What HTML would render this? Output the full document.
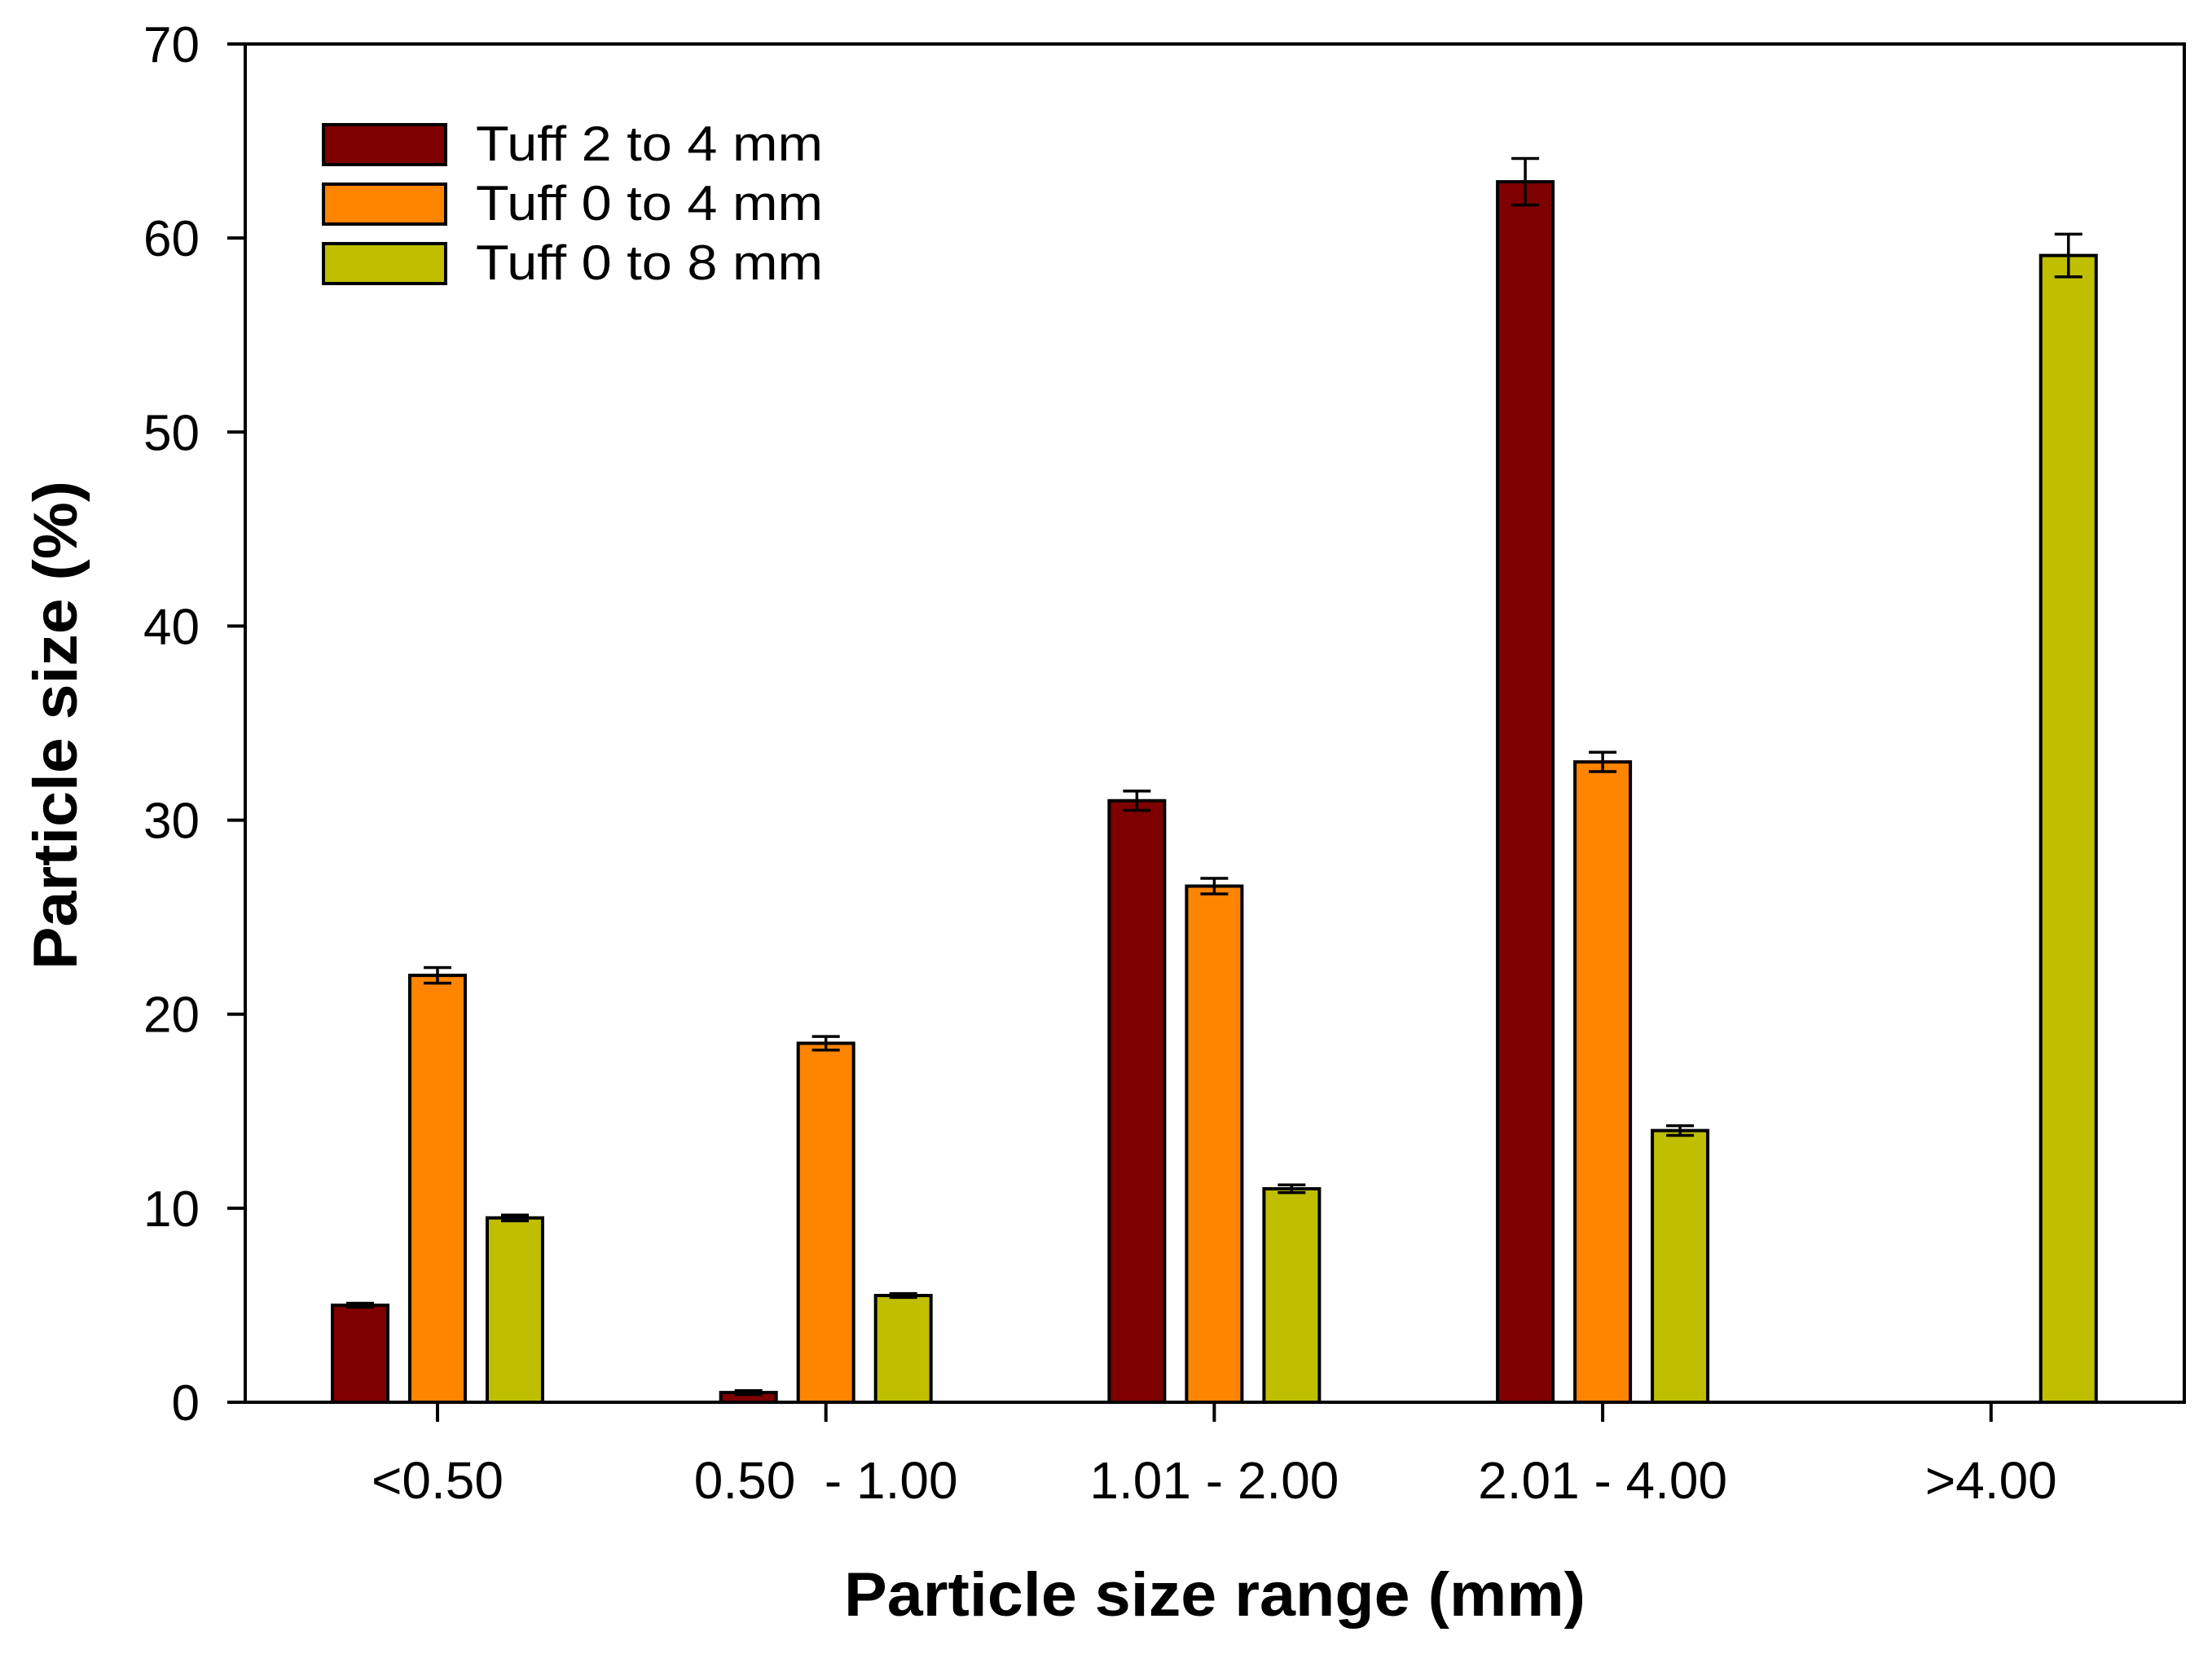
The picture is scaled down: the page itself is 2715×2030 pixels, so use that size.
<!DOCTYPE html>
<html><head><meta charset="utf-8"><style>
html,body{margin:0;padding:0;background:#fff;}
svg{display:block;font-family:"Liberation Sans",Arial,sans-serif;}
</style></head><body>
<svg id="chart" width="2715" height="2030" viewBox="0 0 2715 2030">
<rect width="2715" height="2030" fill="#fff"/>
<g id="bars"></g>
<g id="axes"></g>
<g>
 <rect x="397" y="153" width="150" height="49" fill="#7f0000" stroke="#000" stroke-width="4"/>
 <text x="584" y="197" font-size="60" textLength="426" lengthAdjust="spacingAndGlyphs">Tuff 2 to 4 mm</text>
 <rect x="397" y="226" width="150" height="49" fill="#ff8400" stroke="#000" stroke-width="4"/>
 <text x="584" y="270" font-size="60" textLength="426" lengthAdjust="spacingAndGlyphs">Tuff 0 to 4 mm</text>
 <rect x="397" y="299" width="150" height="49" fill="#bfbf00" stroke="#000" stroke-width="4"/>
 <text x="584" y="343" font-size="60" textLength="426" lengthAdjust="spacingAndGlyphs">Tuff 0 to 8 mm</text>
</g>
<text x="1491" y="1983" font-size="76" font-weight="bold" text-anchor="middle" textLength="910" lengthAdjust="spacingAndGlyphs">Particle size range (mm)</text>
<text transform="translate(94,890) rotate(-90)" font-size="76" font-weight="bold" text-anchor="middle" textLength="600" lengthAdjust="spacingAndGlyphs">Particle size (%)</text>
</svg>
<script>
const categories = ["<0.50", "0.50  - 1.00", "1.01 - 2.00", "2.01 - 4.00", ">4.00"];
const tuff24 = [5, 0.5, 31, 62.9, 0];
const tuff04 = [22, 18.5, 26.6, 33, 0];
const tuff08 = [9.5, 5.5, 11, 14, 59.1];
const err24 = [0.1, 0.1, 0.5, 1.2, 0];
const err04 = [0.4, 0.35, 0.4, 0.5, 0];
const err08 = [0.15, 0.1, 0.2, 0.25, 1.1];
const yTicks = [0, 10, 20, 30, 40, 50, 60, 70];

const NS = "http://www.w3.org/2000/svg";
const L = 301, R = 2681, T = 54, B = 1721;
const yMax = 70;
function y(v){ return B - v / yMax * (B - T); }
function x(i){ return 537 + i * 476.7; }
const barW = 68, off = 95;
function mk(tag, attrs, parent){
  const e = document.createElementNS(NS, tag);
  for (const k in attrs) e.setAttribute(k, attrs[k]);
  parent.appendChild(e);
  return e;
}
const bars = document.getElementById('bars');
const axes = document.getElementById('axes');
const series = [[tuff24, err24, "#7f0000", -off, "tuff-2-4"], [tuff04, err04, "#ff8400", 0, "tuff-0-4"], [tuff08, err08, "#bfbf00", off, "tuff-0-8"]];
series.forEach(s => {
  s[0].forEach((v, i) => {
    if (v <= 0) return;
    const cx = x(i) + s[3];
    const r = mk('rect', {x: cx - barW/2, y: y(v), width: barW, height: B - y(v), fill: s[2], stroke: "#000", "stroke-width": 4}, bars);
    
    
    const e = s[1][i];
    if (e > 0) {
      const g = mk('g', {stroke: "#000", "stroke-width": 3.5}, bars);
      
      
      mk('line', {x1: cx, x2: cx, y1: y(v + e), y2: y(v - e)}, g);
      mk('line', {x1: cx - 17, x2: cx + 17, y1: y(v + e), y2: y(v + e)}, g);
      mk('line', {x1: cx - 17, x2: cx + 17, y1: y(v - e), y2: y(v - e)}, g);
    }
  });
});
const fr = mk('rect', {x: L, y: T, width: R - L, height: B - T, fill: "none", stroke: "#000", "stroke-width": 4}, axes);


yTicks.forEach(t => {
  const ln = mk('line', {x1: L - 22, x2: L, y1: y(t), y2: y(t), stroke: "#000", "stroke-width": 4}, axes);
  
  
  const tx = mk('text', {x: L - 56, y: y(t) + 22, "font-size": 62, "text-anchor": "end"}, axes);
  tx.textContent = t;
  
  
});
categories.forEach((c, i) => {
  const ln = mk('line', {x1: x(i), x2: x(i), y1: B, y2: B + 24, stroke: "#000", "stroke-width": 4}, axes);
  
  
  const tx = mk('text', {x: x(i), y: 1839, "font-size": 64, "text-anchor": "middle"}, axes);
  tx.setAttribute('style', 'white-space:pre');
  tx.textContent = c;
  
  
});
</script>
</body></html>
